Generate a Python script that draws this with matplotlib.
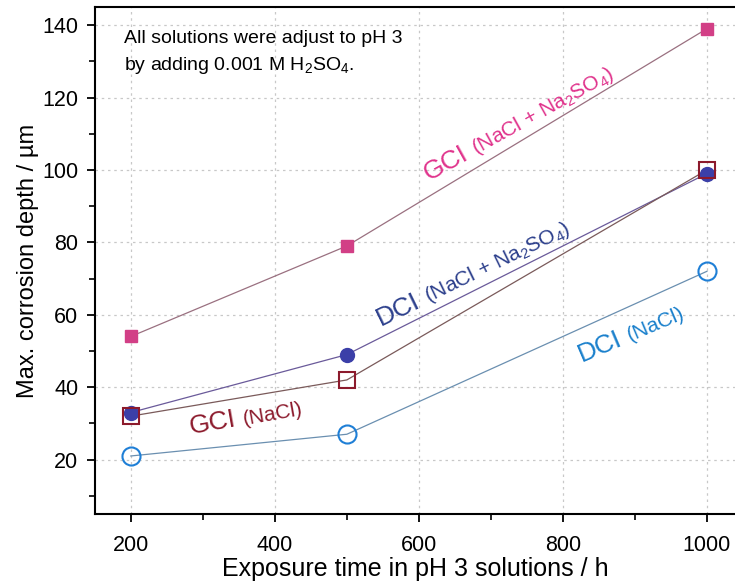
import matplotlib
matplotlib.use("Agg")
import matplotlib.pyplot as plt
from matplotlib import ticker
import numpy as np

plt.rcParams['font.family'] = ['Liberation Sans', 'DejaVu Sans']
plt.rcParams['mathtext.fontset'] = 'custom'
plt.rcParams['mathtext.rm'] = 'Liberation Sans'
plt.rcParams['mathtext.it'] = 'Liberation Sans'

# exposure times (h)
times = [200, 500, 1000]

# max. corrosion depth (um)
gci_mixed = [54, 79, 139]
dci_mixed = [33, 49, 99]
gci_nacl = [32, 42, 100]
dci_nacl = [21, 27, 72]

c_gci_mixed = '#d23f86'
c_dci_mixed = '#3b3fa8'
c_gci_nacl = '#8c1a2c'
c_dci_nacl = '#1f7fd6'

fig = plt.figure(figsize=(7.35, 5.82), dpi=100)
ax = fig.add_axes([0.129, 0.117, 0.871, 0.871])

ax.plot(times, gci_mixed, color='#9a7080', lw=0.9, zorder=2)
ax.plot(times, dci_mixed, color='#6a5a9a', lw=0.9, zorder=2)
ax.plot(times, gci_nacl, color='#7a5a5a', lw=0.9, zorder=2)
ax.plot(times, dci_nacl, color='#6a8fb0', lw=0.9, zorder=2)

ax.plot(times, gci_mixed, 's', color=c_gci_mixed, ms=9, zorder=3)
ax.plot(times, dci_mixed, 'o', color=c_dci_mixed, ms=10, zorder=3)
ax.plot(times, gci_nacl, 's', mfc='none', mec=c_gci_nacl, mew=1.5, ms=11, zorder=4)
ax.plot(times, dci_nacl, 'o', mfc='none', mec=c_dci_nacl, mew=1.5, ms=13, zorder=3)

ax.set_xlim(150, 1039)
ax.set_ylim(5, 145)
ax.xaxis.set_major_locator(ticker.MultipleLocator(200))
ax.xaxis.set_minor_locator(ticker.MultipleLocator(100))
ax.yaxis.set_major_locator(ticker.MultipleLocator(20))
ax.yaxis.set_minor_locator(ticker.MultipleLocator(10))
ax.tick_params(which='major', direction='out', length=6, width=1.3, labelsize=15.5)
ax.tick_params(axis='x', which='major', pad=9)
ax.tick_params(axis='y', which='major', pad=6)
ax.tick_params(which='minor', direction='out', length=4, width=1.2)
ax.spines['right'].set_visible(False)
for s in ['left', 'bottom', 'top']:
    ax.spines[s].set_linewidth(1.5)
ax.grid(True, which='major', color='#c8c8c8', linestyle=(0, (2, 3)), lw=0.9, zorder=0)

ax.set_xlabel('Exposure time in pH 3 solutions / h', fontsize=18, labelpad=1)
ax.set_ylabel('Max. corrosion depth / µm', fontsize=17, labelpad=2)

ax.text(0.045, 0.955, 'All solutions were adjust to pH 3\nby adding 0.001 M H$_2$SO$_4$.',
        transform=ax.transAxes, fontsize=14, va='top', ha='left', linespacing=1.55)


def rotated_label(x, y, big, small, color, angle, big_size=19, small_size=15):
    # big part then small part, laid along the rotated baseline
    ax.text(x, y, big, color=color, fontsize=big_size, rotation=angle,
            rotation_mode='anchor', ha='left', va='baseline')
    fig.canvas.draw()
    tmp = ax.text(0, 0, big + ' ', fontsize=big_size)
    w = tmp.get_window_extent(fig.canvas.get_renderer()).width
    tmp.remove()
    px, py = ax.transData.transform((x, y))
    a = np.radians(angle)
    px += w * np.cos(a)
    py += w * np.sin(a)
    x2, y2 = ax.transData.inverted().transform((px, py))
    ax.text(x2, y2, small, color=color, fontsize=small_size, rotation=angle,
            rotation_mode='anchor', ha='left', va='baseline')


rotated_label(613, 97, 'GCI', '(NaCl + Na$_2$SO$_4$)', '#e0338c', 29)
rotated_label(547, 57, 'DCI', '(NaCl + Na$_2$SO$_4$)', '#2c3f8c', 26)
rotated_label(283, 27, 'GCI', '(NaCl)', c_gci_nacl, 10)
rotated_label(826, 47, 'DCI', '(NaCl)', '#1a80cc', 23)

plt.savefig('out.png', dpi=100)
